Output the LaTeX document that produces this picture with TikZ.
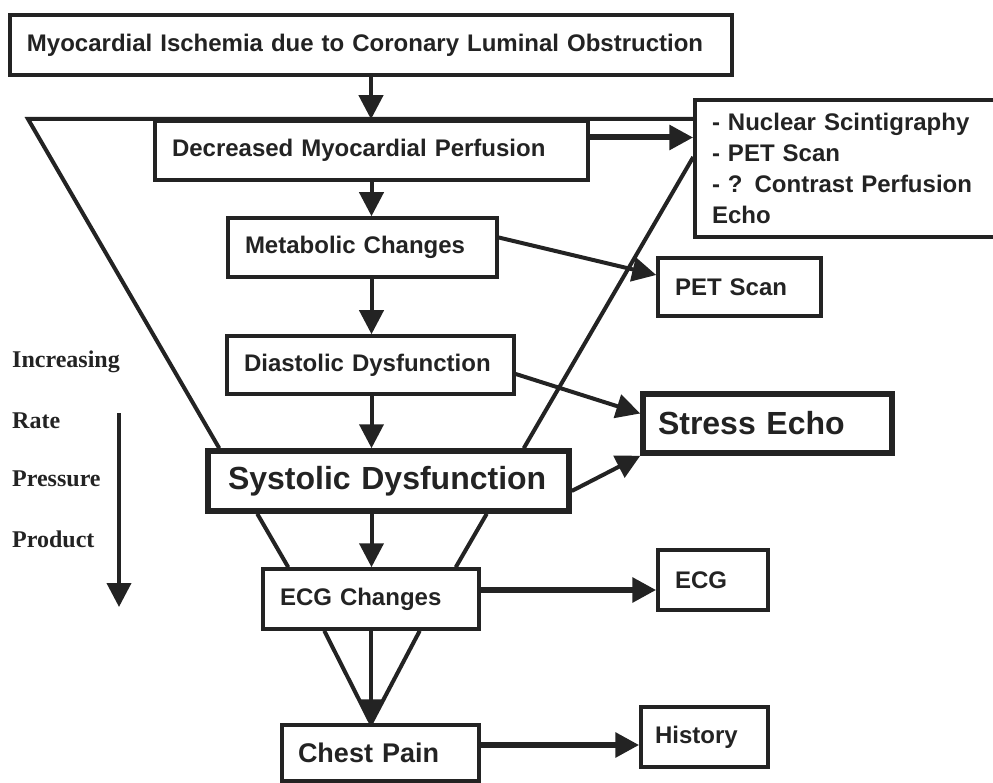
\documentclass[tikz,border=0pt]{standalone}
\usepackage{fontspec}
\setmainfont{Liberation Sans}
\newfontfamily\rppfont{Liberation Serif}
\usetikzlibrary{arrows.meta}
\definecolor{ink}{HTML}{232323}
\tikzset{
	box/.style={draw=ink, text=ink, line width=3.5pt, align=left, inner xsep=17pt, inner ysep=0pt,
		font=\bfseries\fontsize{24}{31}\selectfont},
	bigbox/.style={box, line width=5.5pt, font=\bfseries\fontsize{32}{38}\selectfont},
	arr/.style={draw=ink, line width=4pt, -{Triangle[length=24pt,width=24pt]}},
	heavy/.style={arr, line width=6pt},
	wall/.style={draw=ink, line width=4pt},
	rpp/.style={text=ink, anchor=base west, inner sep=0pt, font=\rppfont\bfseries\fontsize{24}{28}\selectfont}
}
\begin{document}
\begin{tikzpicture}[x=1pt, y=-1pt]
	\useasboundingbox (0,0) rectangle (993,783);
	\node[box, text width=688pt, minimum height=60pt] (top) at (371,45) {Myocardial Ischemia due to Coronary Luminal Obstruction};
	\node[box, text width=399pt, minimum height=59pt] (dec) at (371.5,150.5) {Decreased Myocardial Perfusion};
	\node[box, text width=276pt, minimum height=137pt] (nuc) at (850,168.5) {- Nuclear Scintigraphy\\- PET Scan\\- ? Contrast Perfusion\\Echo};
	\node[box, text width=235pt, minimum height=59pt] (met) at (362.5,247.5) {Metabolic Changes};
	\node[box, text width=129pt, minimum height=58pt] (pet) at (739.5,287) {PET Scan};
	\node[box, text width=253pt, minimum height=58pt] (dia) at (370.5,365) {Diastolic Dysfunction};
	\node[bigbox, text width=219pt, minimum height=59pt, inner xsep=15pt] (str) at (767.5,423.5) {Stress Echo};
	\node[bigbox, text width=321pt, minimum height=60pt, inner xsep=20pt] (sys) at (388.5,481) {Systolic Dysfunction};
	\node[box, text width=182pt, minimum height=60pt] (ecc) at (371,599) {ECG Changes};
	\node[box, text width=76pt, minimum height=60pt] (ecg) at (713,580) {ECG};
	\node[box, text width=165pt, minimum height=56pt, inner xsep=16pt, font=\bfseries\fontsize{27}{32}\selectfont] (chp) at (380.5,753) {Chest Pain};
	\node[box, text width=99pt, minimum height=60pt, inner xsep=14pt] (his) at (704.5,737) {History};

	\node[rpp] (inc) at (12,368) {Increasing};
	\node[rpp] (rate) at (12,428) {Rate};
	\node[rpp] (pres) at (12,486) {Pressure};
	\node[rpp] (prod) at (12,547) {Product};
	\coordinate (rtop) at (119,413);
	\coordinate (rbot) at (119,607);
	\draw[arr] (rtop) -- (rbot);

	\coordinate (tl) at (28,119);
	\draw[wall] (nuc.west |- tl) -- (tl) -- ([xshift=14pt]sys.north west);
	\draw[wall] ([xshift=-48pt]sys.north east) -- ([yshift=11.5pt]nuc.west);
	\draw[wall] ([xshift=52pt]sys.south west) -- ([xshift=27pt]ecc.north west);
	\draw[wall] ([xshift=-85pt]sys.south east) -- ([xshift=-25pt]ecc.north east);
	\draw[wall] ([xshift=63pt]ecc.south west) -- (ecc.south |- chp.north);
	\draw[wall] ([xshift=-61pt]ecc.south east) -- (ecc.south |- chp.north);

	\draw[arr] (top) -- (top |- dec.north);
	\draw[heavy] ([yshift=13pt]dec.east) -- ([yshift=13pt]dec.east -| nuc.west);
	\draw[arr] (dec.south) -- (dec.south |- met.north);
	\draw[arr] ([yshift=10pt]met.east) -- ([yshift=12pt]pet.west);
	\draw[arr] (dec.south |- met.south) -- (dec.south |- dia.north);
	\draw[arr] ([yshift=-9pt]dia.east) -- ([yshift=10pt]str.west);
	\draw[arr] (dec.south |- dia.south) -- (dec.south |- sys.north);
	\draw[arr] ([yshift=-10pt]sys.east) -- (str.south west);
	\draw[arr] (dec.south |- sys.south) -- (dec.south |- ecc.north);
	\draw[heavy] ([yshift=9pt]ecc.east) -- ([yshift=9pt]ecc.east -| ecg.west);
	\draw[arr] (ecc.south) -- (ecc.south |- chp.north);
	\draw[heavy] ([yshift=8pt]chp.east) -- ([yshift=8pt]chp.east -| his.west);
\end{tikzpicture}
\end{document}
